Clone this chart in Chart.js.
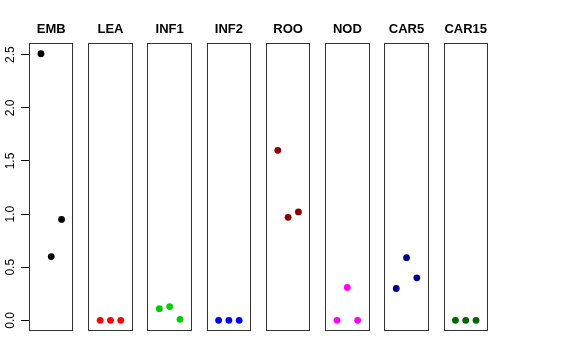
<!DOCTYPE html>
<html>
<head>
<meta charset="utf-8">
<script src="https://cdn.jsdelivr.net/npm/chart.js@4/dist/chart.umd.min.js"></script>
<style>
  html, body { margin: 0; padding: 0; background: #fff; }
  #wrap { width: 576px; height: 360px; }
</style>
</head>
<body>
<div id="wrap"><canvas id="chart" width="576" height="360"></canvas></div>
<script>
// Panels, left to right
const panels = ['EMB', 'LEA', 'INF1', 'INF2', 'ROO', 'NOD', 'CAR5', 'CAR15'];
const colors = ['#000000', '#FF0000', '#00CD00', '#0000FF', '#8B0000', '#FF00FF', '#00008B', '#006400'];

// three samples per panel
const emb   = [2.51, 0.60, 0.95];
const lea   = [0.00, 0.00, 0.00];
const inf1  = [0.11, 0.13, 0.01];
const inf2  = [0.00, 0.00, 0.00];
const roo   = [1.60, 0.97, 1.02];
const nod   = [0.00, 0.31, 0.00];
const car5  = [0.30, 0.59, 0.40];
const car15 = [0.00, 0.00, 0.00];
const series = [emb, lea, inf1, inf2, roo, nod, car5, car15];

const yTicks = [0, 0.5, 1, 1.5, 2, 2.5];

// each panel spans x in [0, 4] (plus R's 4% padding), panels are STEP apart
const STEP = 5.75;
const PAD = 0.16;

const datasets = series.map((vals, i) => ({
  label: panels[i],
  data: vals.map((v, j) => ({ x: i * STEP + j + 1, y: v })),
  backgroundColor: colors[i],
  borderColor: colors[i],
  pointRadius: 3.4,
  pointBorderWidth: 0
}));

const panelPlugin = {
  id: 'panels',
  afterDraw(chart) {
    const { ctx, scales: { x, y } } = chart;
    const top = chart.chartArea.top, bottom = chart.chartArea.bottom;
    ctx.save();
    panels.forEach((name, i) => {
      const l = Math.round(x.getPixelForValue(i * STEP - PAD)) + 0.5;
      const r = Math.round(x.getPixelForValue(i * STEP + 4 + PAD)) - 0.5;
      ctx.strokeStyle = '#333';
      ctx.lineWidth = 1;
      ctx.strokeRect(l, Math.round(top) + 0.5, r - l, Math.round(bottom) - Math.round(top) - 1);
      // title
      ctx.fillStyle = '#000';
      ctx.font = 'bold 13px "Liberation Sans", Arial, sans-serif';
      ctx.textAlign = 'center';
      ctx.textBaseline = 'alphabetic';
      ctx.fillText(name, x.getPixelForValue(i * STEP + 2), 33);
    });
    // rotated y tick labels
    ctx.font = '12px "Liberation Sans", Arial, sans-serif';
    ctx.fillStyle = '#000';
    ctx.textAlign = 'center';
    ctx.textBaseline = 'alphabetic';
    yTicks.forEach(v => {
      const py = y.getPixelForValue(v);
      ctx.save();
      ctx.translate(13.5, py);
      ctx.rotate(-Math.PI / 2);
      ctx.fillText(v.toFixed(1), 0, 0);
      ctx.restore();
    });
    ctx.restore();
  }
};

new Chart(document.getElementById('chart'), {
  type: 'scatter',
  data: { datasets },
  options: {
    responsive: false,
    animation: false,
    layout: { padding: { left: 0, top: 43, right: 88, bottom: 29 } },
    plugins: { legend: { display: false }, tooltip: { enabled: false } },
    scales: {
      x: {
        type: 'linear',
        min: -PAD,
        max: 7 * STEP + 4 + PAD,
        display: false
      },
      y: {
        type: 'linear',
        min: -0.1,
        max: 2.61,
        afterBuildTicks: s => { s.ticks = yTicks.map(v => ({ value: v })); },
        afterFit: s => { s.width = 29; },
        ticks: { display: false },
        grid: { drawOnChartArea: false, drawTicks: true, tickLength: 8, color: '#000' },
        border: { display: false }
      }
    }
  },
  plugins: [panelPlugin]
});
</script>
</body>
</html>
